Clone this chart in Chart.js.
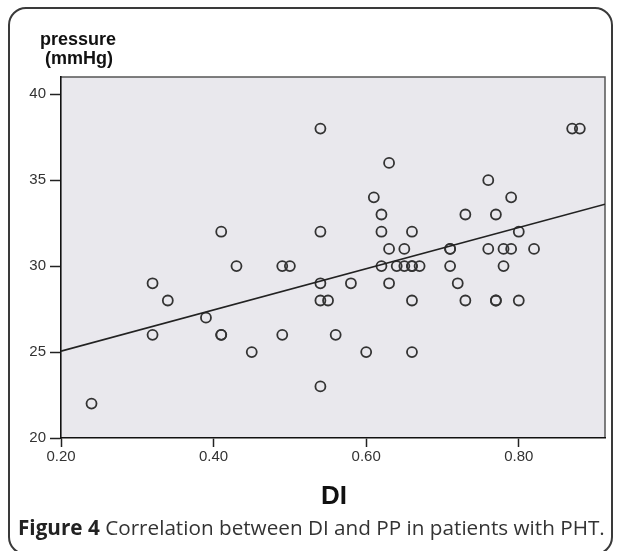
<!DOCTYPE html>
<html>
<head>
<meta charset="utf-8">
<script src="https://cdn.jsdelivr.net/npm/chart.js@4"></script>
<style>
  body { margin: 0; background: #fff; width: 625px; height: 551px; overflow: hidden; position: relative; }
  .frame { position: absolute; left: 8px; top: 7px; width: 605px; height: 548px; box-sizing: border-box;
           border: 2px solid #3a3a3a; border-radius: 18px; }
  #myChart { position: absolute; left: 0; top: 0; }
  .lbl { position: absolute; font-family: "Liberation Sans", Arial, sans-serif; font-weight: bold; color: #111; }
  .caption { position: absolute; left: 18px; top: 513px; font-family: "Open Sans", sans-serif; font-size: 20.7px; line-height: 28px; color: #333; white-space: nowrap; }
  .caption b { color: #222; }
</style>
</head>
<body>
<div class="frame"></div>
<canvas id="myChart" width="625" height="551"></canvas>
<div class="lbl" style="left:40px; top:29px; font-size:18px; line-height:20px;">pressure</div>
<div class="lbl" style="left:45px; top:48px; font-size:18px; line-height:20px;">(mmHg)</div>
<div class="lbl" style="left:321px; top:481px; font-size:26px; line-height:28px;">DI</div>
<div class="caption"><b>Figure 4</b> Correlation between DI and PP in patients with PHT.</div>
<script>
// valores (DI, presion)
const diValues = [0.24, 0.32, 0.32, 0.34, 0.39, 0.41, 0.41, 0.41, 0.43, 0.45,
  0.49, 0.50, 0.49, 0.54, 0.54, 0.54, 0.54, 0.54, 0.55, 0.56,
  0.58, 0.60, 0.61, 0.62, 0.62, 0.62, 0.63, 0.63, 0.63, 0.64,
  0.65, 0.65, 0.66, 0.66, 0.66, 0.66, 0.66, 0.67, 0.71, 0.71,
  0.71, 0.72, 0.73, 0.73, 0.76, 0.76, 0.77, 0.77, 0.77, 0.78,
  0.78, 0.79, 0.79, 0.80, 0.80, 0.82, 0.87, 0.88]
const ppValues = [22, 29, 26, 28, 27, 32, 26, 26, 30, 25,
  30, 30, 26, 38, 32, 29, 28, 23, 28, 26,
  29, 25, 34, 33, 32, 30, 36, 31, 29, 30,
  31, 30, 32, 30, 30, 28, 25, 30, 31, 31,
  30, 29, 33, 28, 35, 31, 33, 28, 28, 31,
  30, 34, 31, 32, 28, 31, 38, 38]

// recta de ajuste (extremos)
const fitX = [0.20, 0.913]
const fitY = [25.05, 33.6]

const xTicks = [0.20, 0.40, 0.60, 0.80]
const yTicks = [20, 25, 30, 35, 40]

let points = diValues.map((v, i) => ({ x: v, y: ppValues[i] }))
let fitLine = fitX.map((v, i) => ({ x: v, y: fitY[i] }))

// fondo gris del area del grafico
const plotBg = {
  id: 'plotBg',
  beforeDraw(chart) {
    const { ctx, chartArea: a } = chart
    ctx.save()
    ctx.fillStyle = '#e9e8ed'
    ctx.fillRect(a.left, a.top, a.width, a.height)
    ctx.strokeStyle = '#555'
    ctx.lineWidth = 1.5
    ctx.beginPath()
    ctx.moveTo(a.left, a.top)
    ctx.lineTo(a.right, a.top)
    ctx.lineTo(a.right, a.bottom)
    ctx.stroke()
    ctx.restore()
  }
}

let myChart = document.getElementById("myChart").getContext('2d')

const scatterChart = new Chart(myChart, {
  type: 'scatter',
  data: {
    datasets: [{
      type: 'line',
      data: fitLine,
      borderColor: '#222',
      borderWidth: 1.7,
      pointRadius: 0,
      order: 0
    }, {
      data: points,
      borderColor: '#333',
      backgroundColor: 'rgba(0,0,0,0)',
      borderWidth: 1.8,
      pointRadius: 5,
      order: 1
    }]
  },
  options: {
    responsive: false,
    animation: false,
    devicePixelRatio: 1,
    layout: { padding: { left: 0, top: 77, right: 20, bottom: 73 } },
    scales: {
      x: {
        type: 'linear',
        min: 0.2,
        max: fitX[1],
        afterBuildTicks: s => { s.ticks = xTicks.map(v => ({ value: v })) },
        afterFit: s => { s.height = 40 },
        ticks: {
          color: '#333',
          padding: 1,
          font: { family: 'Liberation Sans', size: 15 },
          callback: v => v.toFixed(2)
        },
        grid: { drawOnChartArea: false, tickLength: 9, tickColor: '#222', tickWidth: 1.5 },
        border: { display: true, color: '#111', width: 1.6 }
      },
      y: {
        min: 20,
        max: 41,
        afterBuildTicks: s => { s.ticks = yTicks.map(v => ({ value: v })) },
        afterFit: s => { s.width = 61 },
        ticks: {
          color: '#333',
          padding: 4,
          font: { family: 'Liberation Sans', size: 15 }
        },
        grid: { drawOnChartArea: false, tickLength: 11, tickColor: '#222', tickWidth: 1.5 },
        border: { display: true, color: '#111', width: 1.6 }
      }
    },
    plugins: {
      legend: { display: false },
      tooltip: { enabled: false }
    }
  },
  plugins: [plotBg]
})
</script>
</body>
</html>
